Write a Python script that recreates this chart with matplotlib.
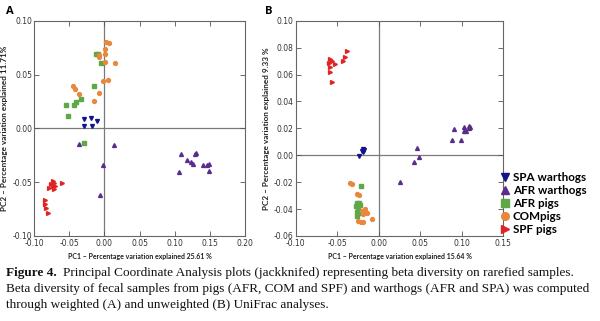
import matplotlib.pyplot as plt
import numpy as np

# panel A (weighted UniFrac) - PC1 / PC2 coordinates
a_spa_x = [-0.0295, -0.0195, -0.0105, -0.0295, -0.0176]
a_spa_y = [0.0090, 0.0096, 0.0068, 0.0025, 0.0022]
a_afrw_x = [-0.036, 0.0143, -0.0019, -0.0062, 0.1086, 0.131, 0.1295, 0.118, 0.124,
            0.1267, 0.1067, 0.140, 0.1462, 0.1486, 0.1486]
a_afrw_y = [-0.0149, -0.0155, -0.0339, -0.0615, -0.0236, -0.0227, -0.0242, -0.0295,
            -0.0317, -0.0329, -0.0404, -0.0342, -0.0339, -0.0329, -0.0394]
a_afrp_x = [-0.0114, -0.0086, -0.0043, -0.0148, -0.054, -0.044, -0.040, -0.034, -0.052, -0.0295]
a_afrp_y = [0.069, 0.069, 0.061, 0.039, 0.022, 0.022, 0.024, 0.027, 0.0115, -0.0134]
a_com_x = [0.002, 0.006, 0.0005, 0.0005, -0.0076, -0.007, 0.0014, 0.0157, -0.0014,
           0.0052, -0.045, -0.042, -0.036, -0.0076, -0.0148]
a_com_y = [0.080, 0.079, 0.074, 0.069, 0.068, 0.066, 0.062, 0.061, 0.044,
           0.045, 0.039, 0.037, 0.032, 0.033, 0.025]
a_spf_x = [-0.0737, -0.0714, -0.060, -0.0761, -0.0737, -0.0704, -0.079, -0.0719,
           -0.0847, -0.0847, -0.0837, -0.080]
a_spf_y = [-0.0492, -0.0504, -0.0508, -0.052, -0.0539, -0.0532, -0.0554, -0.056,
           -0.0669, -0.070, -0.0736, -0.0783]

# panel B (unweighted UniFrac)
b_spa_x = [-0.0192, -0.0188, -0.0196, -0.018, -0.020, -0.024]
b_spa_y = [0.0047, 0.0032, 0.0022, 0.0039, 0.0030, -0.0007]
b_afrw_x = [0.0256, 0.0428, 0.0464, 0.0488, 0.0876, 0.0908, 0.0984, 0.102, 0.102,
            0.105, 0.108, 0.110, 0.1085]
b_afrw_y = [-0.0197, -0.0049, 0.0054, -0.0012, 0.0111, 0.0194, 0.0115, 0.0209, 0.0177,
            0.0179, 0.0201, 0.0209, 0.0216]
b_afrp_x = [-0.0212, -0.0267, -0.0243, -0.0228, -0.0276, -0.0248, -0.0267, -0.0243,
            -0.0220, -0.026]
b_afrp_y = [-0.023, -0.0357, -0.0352, -0.0367, -0.0381, -0.0389, -0.0421, -0.0426,
            -0.0421, -0.045]
b_com_x = [-0.0348, -0.0324, -0.0267, -0.0243, -0.0168, -0.014, -0.008, -0.0188,
           -0.0208, -0.0248, -0.022, -0.0196]
b_com_y = [-0.0203, -0.0215, -0.029, -0.0297, -0.040, -0.043, -0.0476, -0.0438,
           -0.0414, -0.0488, -0.050, -0.0496]
b_spf_x = [-0.0387, -0.0408, -0.0428, -0.0588, -0.0567, -0.0596, -0.0528, -0.0588,
           -0.0588, -0.056]
b_spf_y = [0.0775, 0.0733, 0.070, 0.0713, 0.070, 0.0689, 0.0681, 0.0659, 0.0622, 0.0548]

groups = ['SPA warthogs', 'AFR warthogs', 'AFR pigs', 'COMpigs', 'SPF pigs']
colors = ['#14148a', '#5a2d8c', '#5fa84a', '#e8883c', '#e02424']
markers = ['v', '^', 's', 'o', '>']

a_data = [(a_spa_x, a_spa_y), (a_afrw_x, a_afrw_y), (a_afrp_x, a_afrp_y),
          (a_com_x, a_com_y), (a_spf_x, a_spf_y)]
b_data = [(b_spa_x, b_spa_y), (b_afrw_x, b_afrw_y), (b_afrp_x, b_afrp_y),
          (b_com_x, b_com_y), (b_spf_x, b_spf_y)]


def panel(ax, data, xlab, ylab, xlim, ylim, xt, yt):
    ax.axhline(0, color='#7a7a7a', lw=0.9, zorder=1)
    ax.axvline(0, color='#7a7a7a', lw=0.9, zorder=1)
    for (x, y), c, m in zip(data, colors, markers):
        ax.plot(x, y, m, color=c, ms=2.8, mec=c, zorder=3)
    ax.set_xlim(xlim)
    ax.set_ylim(ylim)
    ax.set_xticks(xt)
    ax.set_yticks(yt)
    ax.xaxis.set_major_formatter(plt.FormatStrFormatter('%.2f'))
    ax.yaxis.set_major_formatter(plt.FormatStrFormatter('%.2f'))
    ax.tick_params(direction='in', top=True, right=True, length=3.5, width=0.6,
                   color='#555555', labelsize=5.5, labelcolor='#333333')
    ax.tick_params(axis='x', pad=2.5)
    ax.tick_params(axis='y', pad=1.5)
    for s in ax.spines.values():
        s.set_color('#666666')
        s.set_linewidth(0.8)
    ax.set_xlabel(xlab, labelpad=3, family='Lato', fontsize=5, fontweight='bold', color='#222222')
    ax.set_ylabel(ylab, labelpad=3, family='Lato', fontsize=5.9, fontweight='bold', color='#222222')


fig = plt.figure(figsize=(6, 3.21), dpi=100)
ax1 = fig.add_axes([0.057, 0.265, 0.351, 0.6705])
ax2 = fig.add_axes([0.493, 0.265, 0.346, 0.6705])

panel(ax1, a_data, 'PC1 \u2013 Percentage variation explained 25.61 %',
      'PC2 \u2013 Percentage variation explained 11.71%',
      (-0.10, 0.20), (-0.10, 0.10), np.arange(-0.10, 0.201, 0.05), np.arange(-0.10, 0.101, 0.05))
panel(ax2, b_data, 'PC1 \u2013 Percentage variation explained 15.64 %',
      'PC2 \u2013 Percentage variation explained 9.33 %',
      (-0.10, 0.15), (-0.06, 0.10), np.arange(-0.10, 0.151, 0.05), np.arange(-0.06, 0.101, 0.02))

fig.text(0.01, 0.955, 'A', family='Open Sans', fontsize=8, fontweight='bold')
fig.text(0.442, 0.955, 'B', family='Open Sans', fontsize=8, fontweight='bold')

handles = [plt.Line2D([], [], ls='', marker=m, color=c, ms=5.5) for c, m in zip(colors, markers)]
fig.legend(handles, groups, loc='center left', bbox_to_anchor=(0.835, 0.366), frameon=False,
           prop=dict(family='Lato', size=8.4, weight='bold'), handlelength=0.7,
           handletextpad=0.3, labelspacing=0.18, borderaxespad=0, borderpad=0)

cap = dict(family='Liberation Serif', fontsize=9.55, color='#111111')
t = fig.text(0.01, 0.141, 'Figure 4.', fontweight='bold', **cap)
fig.canvas.draw()
x_end = t.get_window_extent().x1 / fig.bbox.width
fig.text(x_end + 0.011, 0.141, 'Principal Coordinate Analysis plots (jackknifed) representing beta diversity on rarefied samples.', **cap)
fig.text(0.01, 0.091, 'Beta diversity of fecal samples from pigs (AFR, COM and SPF) and warthogs (AFR and SPA) was computed', **cap)
fig.text(0.01, 0.041, 'through weighted (A) and unweighted (B) UniFrac analyses.', **cap)

plt.savefig('out.png', dpi=100)
